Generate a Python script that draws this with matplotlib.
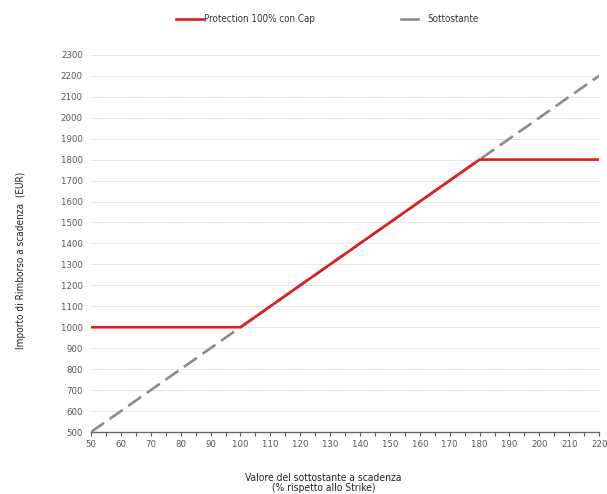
import matplotlib
matplotlib.use("Agg")
import matplotlib.pyplot as plt

# Data
under_x = [50, 220]
under_y = [500, 2200]
prot_x = [50, 100, 180, 220]
prot_y = [1000, 1000, 1800, 1800]
xticks = list(range(50, 221, 10))
yticks = list(range(500, 2301, 100))

plt.rcParams['font.family'] = ['DejaVu Sans']
plt.rcParams['font.stretch'] = 'condensed'

fig = plt.figure(figsize=(6.07, 4.94), dpi=100)
ax = fig.add_axes([0.150, 0.1255, 0.837, 0.7635])

l_under, = ax.plot(under_x, under_y, color='#8c8c8c', lw=1.9, dashes=(6, 2.6), zorder=3)
l_prot, = ax.plot(prot_x, prot_y, color='#e8191e', lw=1.9, zorder=4)

ax.set_xlim(50, 220)
ax.set_ylim(500, 2300)
ax.set_xticks(xticks)
ax.set_xticks(list(range(55, 220, 10)), minor=True)
ax.set_yticks(yticks)
ax.tick_params(axis='x', colors='#555555', labelsize=6.8, length=3, width=0.8, pad=3, direction='out')
ax.tick_params(axis='x', which='minor', colors='#555555', length=3, width=0.8)
ax.tick_params(axis='y', colors='#555555', labelsize=6.8, length=0, pad=6)
for lbl in ax.get_xticklabels() + ax.get_yticklabels():
    lbl.set_color('#555555')
    lbl.set_fontstretch('condensed')

ax.grid(axis='y', color='#c4c4c4', linestyle=(0, (1, 1)), lw=0.6)
for s in ['top', 'right', 'left']:
    ax.spines[s].set_visible(False)
ax.spines['bottom'].set_color('#666666')
ax.spines['bottom'].set_linewidth(1.0)

fig.text(0.533, 0.022, 'Valore del sottostante a scadenza\n(% rispetto allo Strike)', fontsize=7.4,
         color='#222222', ha='center', va='center', linespacing=1.0, fontstretch='condensed')
fig.text(0.035, 0.472, 'Importo di Rimborso a scadenza  (EUR)', fontsize=7.2, rotation=90,
         color='#222222', ha='center', va='center', fontstretch='condensed')

# Legend: two separate entries matching the reference's spacing
h_prot = plt.Line2D([], [], color='#e8191e', lw=1.9)
h_under = plt.Line2D([], [], color='#8c8c8c', lw=1.9)
prop = {'stretch': 'condensed', 'size': 7}
leg1 = fig.legend([h_prot], ['Protection 100% con Cap'], loc='center left',
                  bbox_to_anchor=(176 / 607, 1 - 19 / 494), frameon=False, prop=prop,
                  handlelength=2.8, handletextpad=0.1, borderpad=0, borderaxespad=0,
                  labelcolor='#333333')
leg2 = fig.legend([h_under], ['Sottostante'], loc='center left',
                  bbox_to_anchor=(401 / 607, 1 - 19 / 494), frameon=False, prop=prop,
                  handlelength=1.75, handletextpad=1.0, borderpad=0, borderaxespad=0,
                  labelcolor='#333333')

fig.savefig('out.png', dpi=100)
